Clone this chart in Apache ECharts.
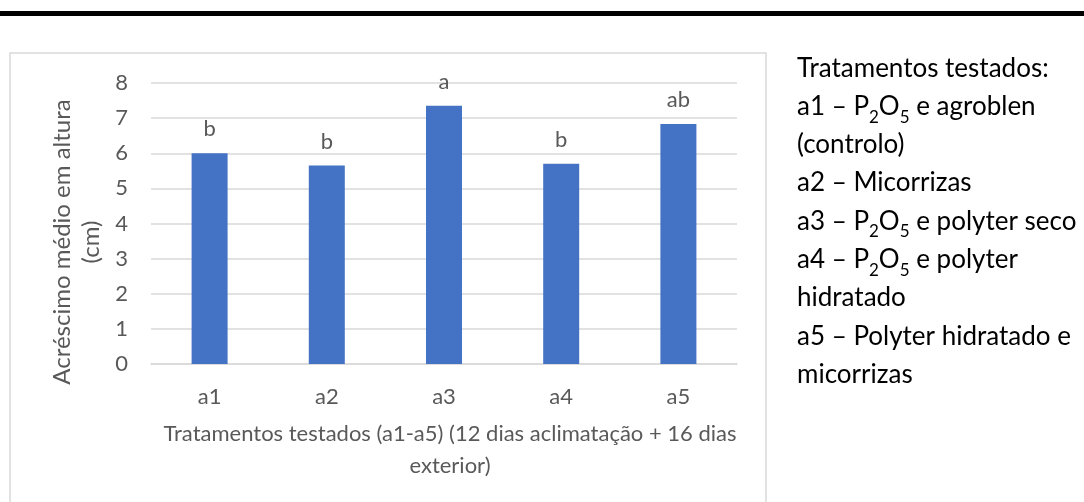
<!DOCTYPE html>
<html>
<head>
<meta charset="utf-8">
<script src="https://cdn.jsdelivr.net/npm/echarts@6/dist/echarts.min.js"></script>
<style>
html,body{margin:0;padding:0;background:#fff;}
#chart{width:1084px;height:502px;}
</style>
</head>
<body>
<div id="chart"></div>
<script>
// ---- data ----
const categories = ['a1', 'a2', 'a3', 'a4', 'a5'];
const values = [6.0, 5.65, 7.35, 5.7, 6.83];
const letters = ['b', 'b', 'a', 'b', 'ab'];
const yTitleLines = ['Acréscimo médio em altura', '(cm)'];
const xTitleLines = ['Tratamentos testados (a1-a5) (12 dias aclimatação + 16 dias', 'exterior)'];
const noteLines = [
  'Tratamentos testados:',
  'a1 – P{s|2}O{s|5} e agroblen',
  '(controlo)',
  'a2 – Micorrizas',
  'a3 – P{s|2}O{s|5} e polyter seco',
  'a4 – P{s|2}O{s|5} e polyter',
  'hidratado',
  'a5 – Polyter hidratado e',
  'micorrizas'
];

const FONT = 'Lato, "Open Sans", sans-serif';
const GREY = '#595959';
const chart = echarts.init(document.getElementById('chart'), null, {renderer: 'canvas'});

chart.setOption({
  animation: false,
  backgroundColor: '#ffffff',
  grid: {left: 151, right: 347, top: 83, bottom: 138, containLabel: false},
  xAxis: {
    type: 'category',
    data: categories,
    axisLine: {lineStyle: {color: '#D9D9D9', width: 1.5}},
    axisTick: {show: false},
    axisLabel: {color: GREY, fontSize: 22, fontFamily: FONT, margin: 22}
  },
  yAxis: {
    type: 'value',
    min: 0, max: 8, interval: 1,
    axisLine: {show: false},
    axisTick: {show: false},
    axisLabel: {color: GREY, fontSize: 22, fontFamily: FONT, margin: 23},
    splitLine: {lineStyle: {color: '#D9D9D9', width: 1.5}}
  },
  series: [{
    type: 'bar',
    data: values,
    barWidth: 36,
    itemStyle: {color: '#4472C4'},
    label: {
      show: true,
      position: 'top',
      distance: 13,
      color: GREY,
      fontSize: 22,
      fontFamily: FONT,
      formatter: p => letters[p.dataIndex]
    }
  }],
  graphic: [
    {type: 'rect', shape: {x: 0, y: 11, width: 1084, height: 5}, style: {fill: '#000'}, silent: true},
    {type: 'rect', shape: {x: 10, y: 53, width: 756, height: 470}, style: {fill: 'none', stroke: '#D9D9D9', lineWidth: 1.5}, silent: true},
    {
      type: 'text', x: 62, y: 242, rotation: Math.PI / 2,
      style: {text: yTitleLines[0], align: 'center', verticalAlign: 'middle', fontSize: 24, fontFamily: FONT, fill: GREY}
    },
    {
      type: 'text', x: 91, y: 242, rotation: Math.PI / 2,
      style: {text: yTitleLines[1], align: 'center', verticalAlign: 'middle', fontSize: 24, fontFamily: FONT, fill: GREY}
    },
    {
      type: 'text', x: 450, y: 434,
      style: {text: xTitleLines[0], align: 'center', verticalAlign: 'middle', fontSize: 22, fontFamily: FONT, fill: GREY}
    },
    {
      type: 'text', x: 450, y: 466,
      style: {text: xTitleLines[1], align: 'center', verticalAlign: 'middle', fontSize: 22, fontFamily: FONT, fill: GREY}
    },
    {
      type: 'text', x: 797, y: 49,
      style: {
        text: noteLines.join('\n'),
        align: 'left', verticalAlign: 'top',
        fontSize: 26, fontFamily: FONT, fill: '#000', lineHeight: 38.3,
        rich: {s: {fontSize: 17, fontFamily: FONT, fill: '#000', lineHeight: 29, verticalAlign: 'bottom'}}
      }
    }
  ]
});
</script>
</body>
</html>
